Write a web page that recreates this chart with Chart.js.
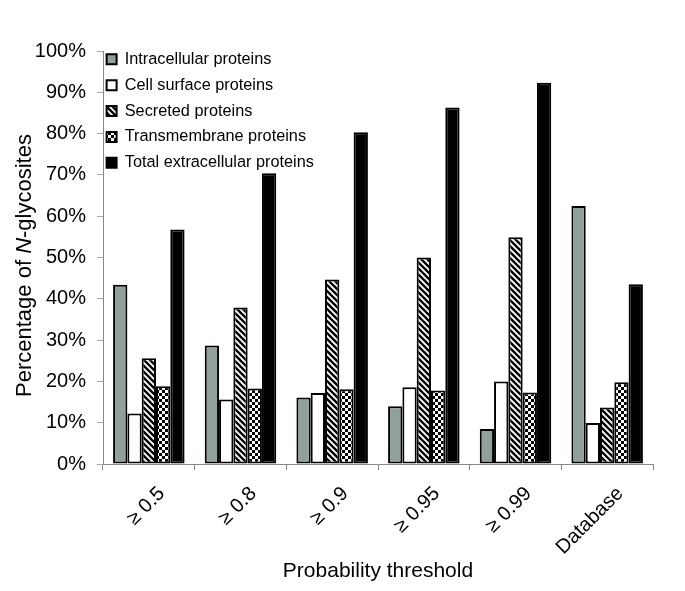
<!DOCTYPE html>
<html>
<head>
<meta charset="utf-8">
<script src="https://cdn.jsdelivr.net/npm/chart.js@4/dist/chart.umd.min.js"></script>
<style>
  html, body { margin: 0; padding: 0; background: #ffffff; }
  #wrap { width: 685px; height: 591px; }
</style>
</head>
<body>
<div id="wrap"><canvas id="c" width="685" height="591"></canvas></div>
<script>
// ---- data ----
const categories = ['≥ 0.5', '≥ 0.8', '≥ 0.9', '≥ 0.95', '≥ 0.99', 'Database'];
const seriesNames = ['Intracellular proteins', 'Cell surface proteins', 'Secreted proteins', 'Transmembrane proteins', 'Total extracellular proteins'];
const intracellular      = [43.4, 28.7, 16.1, 14.0, 8.5, 62.5];
const cellSurface        = [12.2, 15.6, 17.2, 18.6, 20.0, 9.9];
const secreted           = [25.6, 37.9, 44.7, 50.0, 54.9, 13.7];
const transmembrane      = [18.8, 18.3, 18.1, 17.8, 17.3, 19.8];
const totalExtracellular = [56.8, 70.4, 80.3, 86.3, 92.3, 43.5];
const yMin = 0, yMax = 100, yStep = 10;
const xTitle = 'Probability threshold';
const yTitleParts = [['Percentage of ', false], ['N', true], ['-glycosites', false]];

// ---- fill patterns ----
function stripePattern() {
  const s = 6;
  const cv = document.createElement('canvas');
  cv.width = s; cv.height = s;
  const g = cv.getContext('2d');
  g.fillStyle = '#fff'; g.fillRect(0, 0, s, s);
  g.strokeStyle = '#000'; g.lineWidth = 2.3;
  g.beginPath();
  g.moveTo(-s, 0); g.lineTo(s, 2 * s);
  g.moveTo(0, 0); g.lineTo(s, s);
  g.moveTo(0, -s); g.lineTo(2 * s, s);
  g.moveTo(-s, -s); g.lineTo(s, s);
  g.stroke();
  return g.createPattern(cv, 'repeat');
}
function checkerPattern() {
  const s = 6, h = 3;
  const cv = document.createElement('canvas');
  cv.width = s; cv.height = s;
  const g = cv.getContext('2d');
  g.fillStyle = '#fff'; g.fillRect(0, 0, s, s);
  g.fillStyle = '#000';
  g.fillRect(0, 0, h, h);
  g.fillRect(h, h, h, h);
  return g.createPattern(cv, 'repeat');
}

const FONT = "'Liberation Sans', Arial, Helvetica, sans-serif";

const yTitlePlugin = {
  id: 'yTitle',
  afterDraw(chart) {
    const ctx = chart.ctx;
    const a = chart.chartArea;
    ctx.save();
    const cx = 25, cy = (a.top + a.bottom) / 2 + 8;
    ctx.translate(cx, cy);
    ctx.rotate(-Math.PI / 2);
    ctx.fillStyle = '#000';
    ctx.textBaseline = 'middle';
    ctx.textAlign = 'left';
    let total = 0;
    const widths = yTitleParts.map(([t, it]) => {
      ctx.font = (it ? 'italic ' : '') + '22px ' + FONT;
      const w = ctx.measureText(t).width; total += w; return w;
    });
    let x = -total / 2;
    yTitleParts.forEach(([t, it], i) => {
      ctx.font = (it ? 'italic ' : '') + '22px ' + FONT;
      ctx.fillText(t, x, 0);
      x += widths[i];
    });
    ctx.restore();
  }
};

const legendPlacePlugin = {
  id: 'legendPlace',
  afterLayout(chart) {
    const lg = chart.legend;
    if (!lg) return;
    const w = lg.width, h = lg.height;
    lg.left = chart.chartArea.left - 6;
    lg.top = chart.chartArea.top - 9.5;
    lg.right = lg.left + w;
    lg.bottom = lg.top + h;
  }
};

const common = { borderColor: '#000', borderWidth: 2, borderSkipped: false,
  categoryPercentage: 0.78, barPercentage: 1.0 };

new Chart(document.getElementById('c'), {
  type: 'bar',
  data: {
    labels: categories,
    datasets: [
      Object.assign({ label: seriesNames[0], data: intracellular, backgroundColor: '#8fa09d' }, common),
      Object.assign({ label: seriesNames[1], data: cellSurface, backgroundColor: '#ffffff' }, common),
      Object.assign({ label: seriesNames[2], data: secreted, backgroundColor: stripePattern() }, common),
      Object.assign({ label: seriesNames[3], data: transmembrane, backgroundColor: checkerPattern() }, common),
      Object.assign({ label: seriesNames[4], data: totalExtracellular, backgroundColor: '#000000' }, common)
    ]
  },
  options: {
    responsive: false,
    animation: false,
    layout: { padding: { top: 51, right: 32, bottom: 0, left: 0 } },
    plugins: {
      legend: {
        position: 'chartArea',
        align: 'start',
        labels: {
          boxWidth: 10, boxHeight: 10, padding: 9.6, color: '#000',
          font: { family: FONT, size: 16.3 }
        }
      },
      tooltip: { enabled: false }
    },
    scales: {
      x: {
        afterFit(s) { s.height = 127; },
        grid: { drawOnChartArea: false, tickLength: 6, color: '#888', offset: true },
        border: { color: '#888', width: 1 },
        ticks: {
          color: '#000', font: { family: FONT, size: 20 },
          minRotation: 45, maxRotation: 45, padding: 12, labelOffset: 13, autoSkip: false
        },
        title: { display: true, text: xTitle, color: '#000',
          font: { family: FONT, size: 21 }, padding: { top: 0, bottom: 7 } }
      },
      y: {
        min: yMin, max: yMax,
        afterFit(s) { s.width = 103; },
        grid: { drawOnChartArea: false, tickLength: 6, color: '#aaa' },
        border: { color: '#888', width: 1 },
        ticks: {
          stepSize: yStep, color: '#000', padding: 11,
          font: { family: FONT, size: 20 },
          callback: (v) => v + '%'
        }
      }
    }
  },
  plugins: [yTitlePlugin, legendPlacePlugin]
});
</script>
</body>
</html>
